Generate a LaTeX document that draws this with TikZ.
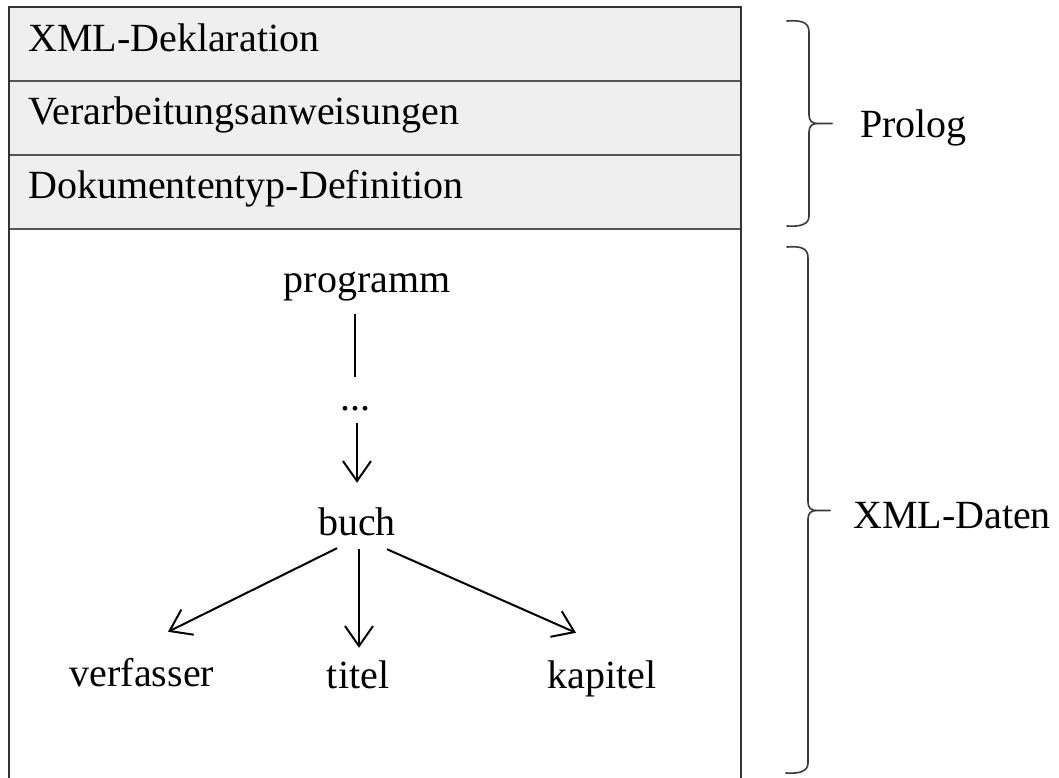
\documentclass[tikz,border=0pt]{standalone}
\usepackage{fontspec}
\setmainfont{Liberation Serif}
\usetikzlibrary{arrows.meta}
\definecolor{rowfill}{HTML}{EFEFEF}
\definecolor{frame}{HTML}{333333}
\definecolor{divider}{HTML}{555555}
\definecolor{bracecol}{HTML}{3A3A3A}
\begin{document}
\begin{tikzpicture}[x=1pt,y=1pt,
  lbl/.style={inner sep=0pt, anchor=base west, font=\fontsize{40pt}{48pt}\selectfont},
  tn/.style={inner sep=0pt, anchor=base, text height=28pt, text depth=10pt, font=\fontsize{40pt}{48pt}\selectfont},
  conn/.style={line width=2pt, black},
  arr/.style={conn, -{Straight Barb[length=20pt,width=28pt]}},
  brc/.style={line width=1.6pt, bracecol, line cap=round, line join=round}]
\useasboundingbox (0,0) rectangle (1059,-778);
% prolog rows
\fill[rowfill] (9,-7) rectangle (741,-229);
\draw[divider, line width=1.5pt] (9,-81) -- (741,-81);
\draw[divider, line width=1.5pt] (9,-155) -- (741,-155);
\draw[divider, line width=1.5pt] (9,-229) -- (741,-229);
\draw[frame, line width=1.5pt] (9,-778) -- (9,-7) -- (741,-7) -- (741,-778);
\node[lbl] (decl) at (28,-52) {XML-Deklaration};
\node[lbl] (pi) at (28,-125) {Verarbeitungsanweisungen};
\node[lbl] (dtd) at (28,-198) {Dokumententyp-Definition};
% braces
\draw[brc] (787,-21) .. controls (801,-20) and (809,-22) .. (809,-32)
  -- (809,-115) .. controls (809,-121) and (812,-123.5) .. (818,-123.5) -- (832,-123.5)
  (818,-123.5) .. controls (812,-123.5) and (809,-126) .. (809,-132)
  -- (809,-216) .. controls (809,-224) and (801,-227) .. (787,-226);
\draw[brc] (787,-247) .. controls (801,-246) and (808,-248) .. (808,-258)
  -- (808,-502) .. controls (808,-508) and (811,-510.5) .. (817,-510.5) -- (830,-510.5)
  (817,-510.5) .. controls (811,-510.5) and (808,-513) .. (808,-519)
  -- (808,-763) .. controls (808,-771) and (800,-774) .. (786,-773);
\node[lbl] (prolog) at (860,-138) {Prolog};
\node[lbl] (daten) at (853,-528) {XML-Daten};
% tree
\node[tn] (prog) at (367,-292) {programm};
\node[tn] (dots) at (355,-410) {...};
\node[tn] (buch) at (357,-535) {buch};
\node[tn] (verf) at (142,-686) {verfasser};
\node[tn] (titel) at (358,-688) {titel};
\node[tn] (kap) at (602,-688) {kapitel};
\draw[conn] ([xshift=-12pt,yshift=-12pt]prog.south) -- ([yshift=5pt]dots.north);
\draw[arr] ([xshift=2pt,yshift=-3pt]dots.south) -- ([yshift=24pt]buch.north);
\draw[arr] ([xshift=-20pt,yshift=-3pt]buch.south) -- ([xshift=26pt,yshift=26pt]verf.north);
\draw[arr] ([xshift=2pt,yshift=-4pt]buch.south) -- ([xshift=1pt,yshift=12pt]titel.north);
\draw[arr] ([xshift=30pt,yshift=-4pt]buch.south) -- ([xshift=-26pt,yshift=27pt]kap.north);
\end{tikzpicture}
\end{document}
